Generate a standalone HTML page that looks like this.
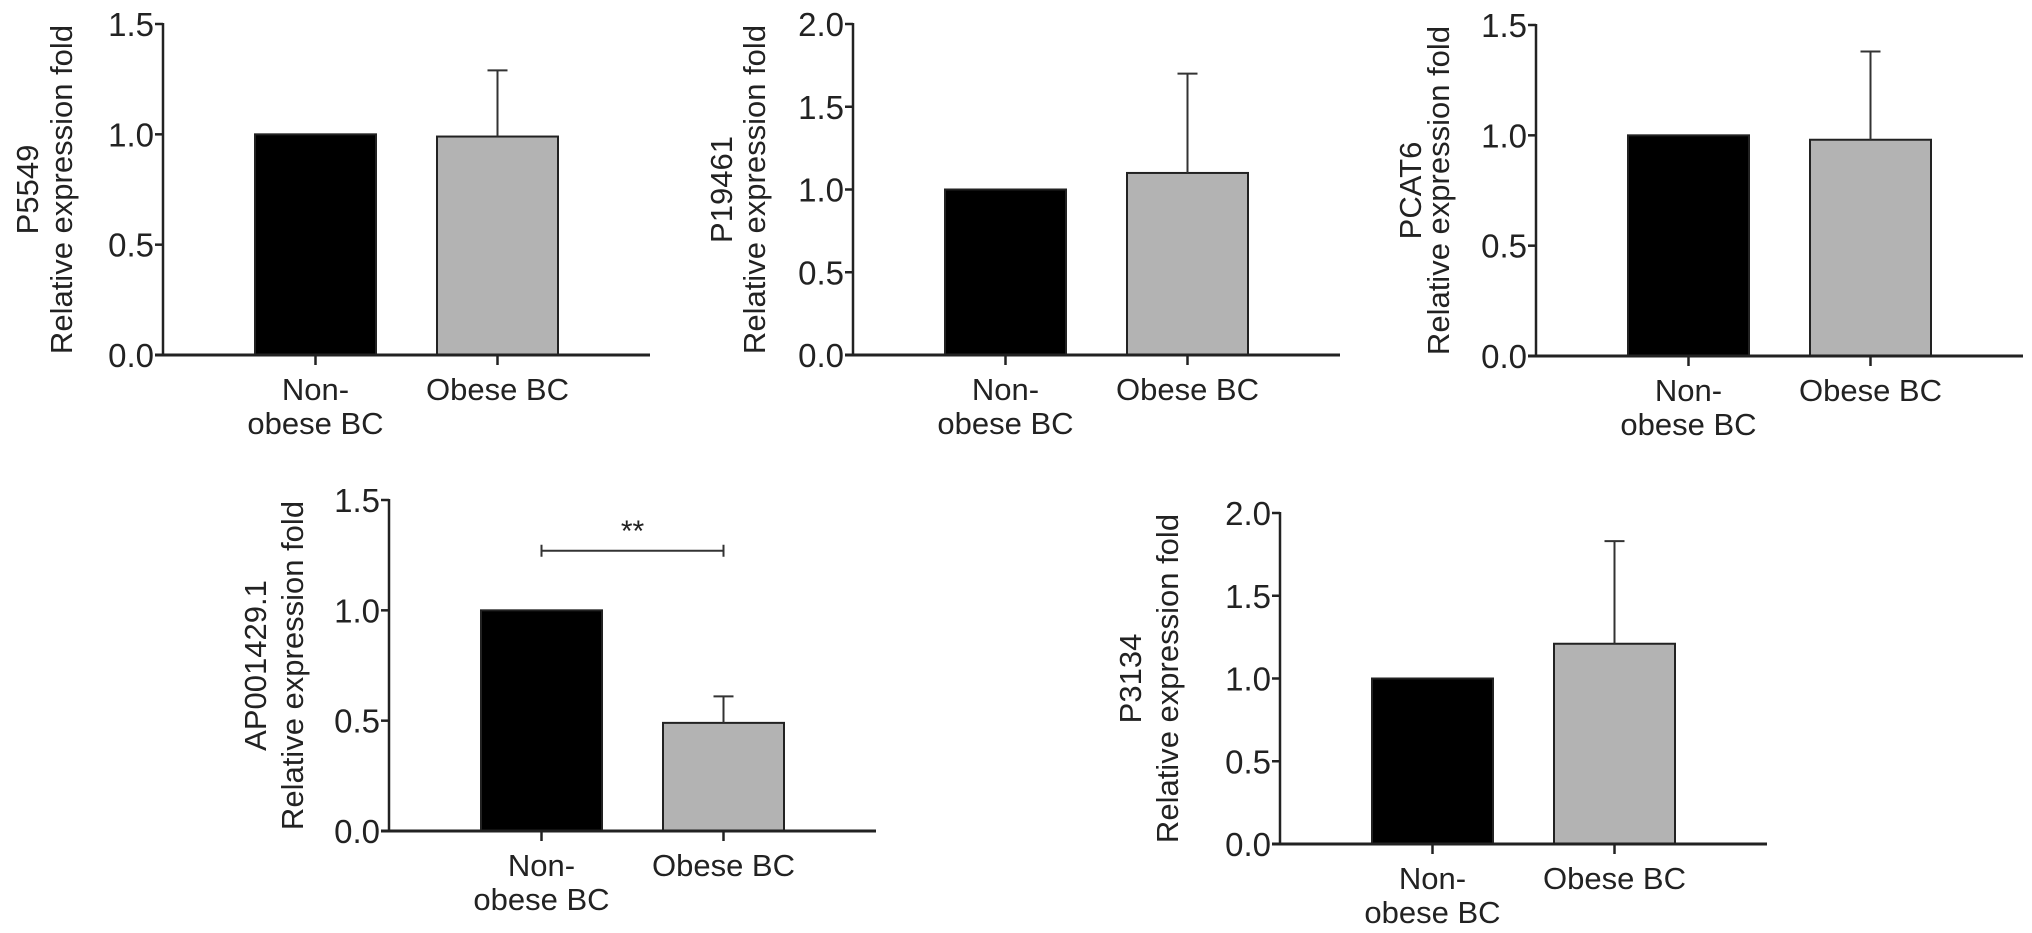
<!DOCTYPE html>
<html><head><meta charset="utf-8"><style>
html,body{margin:0;padding:0;background:#fff;}
svg{display:block;font-family:"Liberation Sans",Arial,sans-serif;}
</style></head><body>
<svg id="fig" width="2032" height="933" viewBox="0 0 2032 933" xmlns="http://www.w3.org/2000/svg"></svg>
<script>
const panelNames = ["P5549","P19461","PCAT6","AP001429.1","P3134"];
const categories = ["Non-obese BC","Obese BC"];
const nonObeseValues = [1.0,1.0,1.0,1.0,1.0];
const obeseValues = [0.99,1.10,0.98,0.49,1.21];
const obeseErrors = [0.30,0.60,0.40,0.12,0.62];
const yMaxes = [1.5,2.0,1.5,1.5,2.0];
const tickLists = [["0.0","0.5","1.0","1.5"],["0.0","0.5","1.0","1.5","2.0"],["0.0","0.5","1.0","1.5"],["0.0","0.5","1.0","1.5"],["0.0","0.5","1.0","1.5","2.0"]];
const significance = ["","","","**",""];

const layout = [
 {ax:163,top:24,base:355,lab1:-136,lab2:-102},
 {ax:853,top:24,base:355,lab1:-132,lab2:-99},
 {ax:1536,top:25,base:356,lab1:-126,lab2:-98},
 {ax:389,top:500,base:831,lab1:-134,lab2:-97},
 {ax:1280,top:513,base:844,lab1:-150,lab2:-113}
];
const NS="http://www.w3.org/2000/svg";
const svg=document.getElementById('fig');
function mk(tag,attrs,parent){const e=document.createElementNS(NS,tag);for(const k in attrs)e.setAttribute(k,attrs[k]);(parent||svg).appendChild(e);return e;}

panelNames.forEach((name,i)=>{
  const L=layout[i];
  const g=mk('g',{});
  
  
  const y=v=>L.base-(v/yMaxes[i])*(L.base-L.top);
  const axEnd=L.ax+487;
  const bx=[L.ax+92,L.ax+274];
  const bw=121;
  const vals=[nonObeseValues[i],obeseValues[i]];
  vals.forEach((v,j)=>{
    const r=mk('rect',{x:bx[j],y:y(v),width:bw,height:L.base-y(v),fill:j?'#b3b3b3':'#000',stroke:'#222','stroke-width':2},g);
    
    
  });
  const cx=bx[1]+bw/2;
  const eTop=y(obeseValues[i]+obeseErrors[i]);
  const el=mk('path',{d:`M${cx},${y(obeseValues[i])}V${eTop}M${cx-10},${eTop}H${cx+10}`,stroke:'#333','stroke-width':2,fill:'none'},g);
  
  
  const ya=mk('line',{x1:L.ax,y1:L.top-1,x2:L.ax,y2:L.base,stroke:'#222','stroke-width':2.5},g);
  
  
  const xa=mk('line',{x1:L.ax-8,y1:L.base,x2:axEnd,y2:L.base,stroke:'#222','stroke-width':3},g);
  
  
  tickLists[i].forEach(t=>{
    const ty=y(parseFloat(t));
    mk('line',{x1:L.ax-8,y1:ty,x2:L.ax,y2:ty,stroke:'#222','stroke-width':2.5},g);
    const tx=mk('text',{x:L.ax-9,y:ty+12,'text-anchor':'end','font-size':33,fill:'#222'},g);
    tx.textContent=t;
    
    
  });
  bx.forEach((b,j)=>{
    const c=b+bw/2;
    mk('line',{x1:c,y1:L.base,x2:c,y2:L.base+10,stroke:'#222','stroke-width':2.5},g);
    const t=mk('text',{x:c,y:L.base+45,'text-anchor':'middle','font-size':31,fill:'#222'},g);
    
    
    if(j===0){
      const a=mk('tspan',{x:c},t);a.textContent='Non-';
      const b2=mk('tspan',{x:c,dy:34},t);b2.textContent='obese BC';
    } else t.textContent=categories[1];
  });
  const midY=(L.top+L.base)/2;
  const t1=mk('text',{x:0,y:0,'text-anchor':'middle','font-size':31,fill:'#222',transform:`translate(${L.ax+L.lab1+11},${midY}) rotate(-90)`},g);
  t1.textContent=name;
  
  
  const t2=mk('text',{x:0,y:0,'text-anchor':'middle','font-size':31,fill:'#222',transform:`translate(${L.ax+L.lab2+11},${midY}) rotate(-90)`},g);
  t2.textContent='Relative expression fold';
  
  
  if(significance[i]){
    const c1=bx[0]+bw/2,c2=bx[1]+bw/2,sy=y(1.27);
    const br=mk('path',{d:`M${c1},${sy-6}V${sy+6}M${c1},${sy}H${c2}M${c2},${sy-6}V${sy+6}`,stroke:'#333','stroke-width':2,fill:'none'},g);
    
    
    const st=mk('text',{x:(c1+c2)/2,y:sy-10,'text-anchor':'middle','font-size':30,fill:'#222'},g);
    st.textContent=significance[i];
    
    
  }
});
</script>
</body></html>
